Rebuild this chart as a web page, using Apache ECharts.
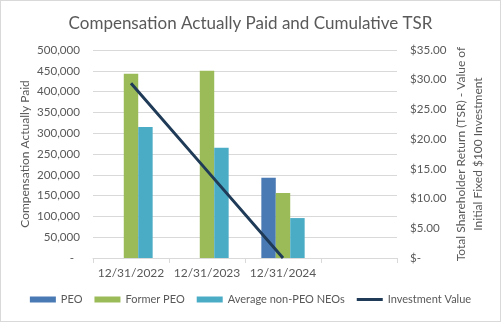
<!DOCTYPE html>
<html>
<head>
<meta charset="utf-8">
<script src="https://cdn.jsdelivr.net/npm/echarts@6/dist/echarts.min.js"></script>
<style>
  html, body { margin: 0; padding: 0; background: #ffffff; }
  #chart { width: 501px; height: 322px; box-sizing: border-box; border: 1px solid #d9d9d9; }
</style>
</head>
<body>
<div id="chart"></div>
<script>
// Fiscal year-end dates (the fourth slot is left empty on purpose)
const categories = ['12/31/2022', '12/31/2023', '12/31/2024', ''];

// Compensation actually paid ($)
const peo = [null, null, 193000, null];
const formerPeo = [443000, 450000, 156000, null];
const avgNonPeoNeos = [315000, 265000, 96000, null];

// Value of an initial fixed $100 investment ($)
const investmentValue = [29.4, 14.7, 0, null];

// Axis tick setup
const leftTicks = { min: 0, max: 500000, interval: 50000 };
const rightTicks = { min: 0, max: 35, interval: 5 };

const FONT = 'Lato, "Open Sans", sans-serif';
const GREY = '#595959';
const NAVY = '#1f3b57';

// thin horizontal stroke centred in a 26x6 box, for the line entry of the legend
const LINE_ICON = 'path://M0,0h0.01v0.01h-0.01z M0,1.5h26v3h-26z M25.99,5.99h0.01v0.01h-0.01z';

const chart = echarts.init(document.getElementById('chart'), null, { renderer: 'canvas' });

chart.setOption({
  animation: false,
  backgroundColor: '#ffffff',
  textStyle: { fontFamily: FONT, color: GREY },
  title: {
    text: 'Compensation Actually Paid and Cumulative TSR',
    left: 'center',
    top: 9,
    textStyle: { fontFamily: FONT, fontSize: 17, fontWeight: 'normal', color: GREY }
  },
  legend: {
    bottom: 11,
    left: 'center',
    itemWidth: 26,
    itemHeight: 6,
    itemGap: 12,
    textStyle: { fontFamily: FONT, fontSize: 11, color: GREY },
    data: [
      { name: 'PEO', icon: 'rect' },
      { name: 'Former PEO', icon: 'rect' },
      { name: 'Average non-PEO NEOs', icon: 'rect' },
      { name: 'Investment Value', icon: LINE_ICON }
    ]
  },
  grid: { left: 92, right: 103, top: 49, bottom: 63 },
  xAxis: {
    type: 'category',
    data: categories,
    boundaryGap: true,
    axisLine: { lineStyle: { color: '#d9d9d9' } },
    axisTick: { show: true, length: 5, lineStyle: { color: '#d9d9d9' } },
    axisLabel: { interval: 0, fontFamily: FONT, fontSize: 12, color: GREY, margin: 9 }
  },
  yAxis: [
    {
      type: 'value',
      min: leftTicks.min, max: leftTicks.max, interval: leftTicks.interval,
      name: 'Compensation Actually Paid',
      nameLocation: 'middle',
      nameRotate: 90,
      nameGap: 62,
      nameMoveOverlap: false,
      nameTextStyle: { fontFamily: FONT, fontSize: 12, color: GREY },
      axisLine: { show: false },
      axisTick: { show: false },
      splitLine: { lineStyle: { color: '#d9d9d9' } },
      axisLabel: {
        fontFamily: FONT, fontSize: 11.6, color: GREY, margin: 13,
        formatter: v => v === 0 ? '-  ' : v.toLocaleString('en-US')
      }
    },
    {
      type: 'value',
      min: rightTicks.min, max: rightTicks.max, interval: rightTicks.interval,
      position: 'right',
      name: 'Total Shareholder Return (TSR) - Value of\nInitial Fixed $100 Investment',
      nameLocation: 'middle',
      nameRotate: 90,
      nameGap: 56,
      nameMoveOverlap: false,
      nameTextStyle: { fontFamily: FONT, fontSize: 12, color: GREY, lineHeight: 17 },
      axisLine: { show: false },
      axisTick: { show: false },
      splitLine: { show: false },
      axisLabel: {
        fontFamily: FONT, fontSize: 11.6, color: GREY, margin: 13,
        formatter: v => v === 0 ? '$-' : '$' + v.toFixed(2)
      }
    }
  ],
  series: [
    {
      name: 'PEO', type: 'bar', data: peo,
      barGap: '0%', barCategoryGap: '43%',
      itemStyle: { color: '#4a7ab4' }
    },
    {
      name: 'Former PEO', type: 'bar', data: formerPeo,
      barGap: '0%', barCategoryGap: '43%',
      itemStyle: { color: '#9bbb59' }
    },
    {
      name: 'Average non-PEO NEOs', type: 'bar', data: avgNonPeoNeos,
      barGap: '0%', barCategoryGap: '43%',
      itemStyle: { color: '#4bacc6' }
    },
    {
      name: 'Investment Value', type: 'line', yAxisIndex: 1, data: investmentValue,
      symbol: 'none',
      lineStyle: { color: NAVY, width: 3 },
      itemStyle: { color: NAVY }
    }
  ]
});
</script>
</body>
</html>
